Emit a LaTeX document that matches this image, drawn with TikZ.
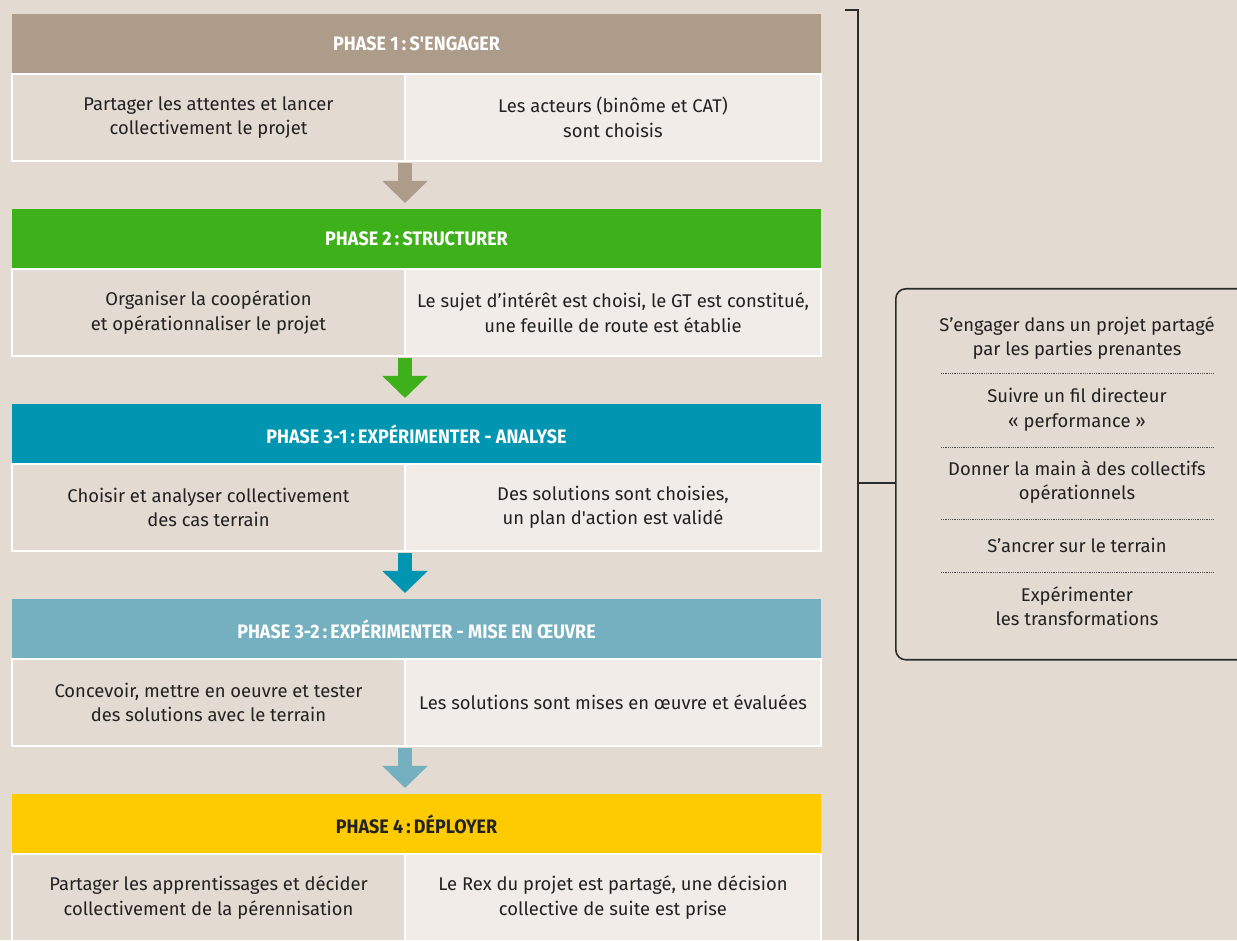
\documentclass[tikz,border=0pt]{standalone}
\usepackage{fontspec}
\setmainfont{Fira Sans}
\newfontfamily\headfont[FakeStretch=0.92]{Fira Sans}
\usetikzlibrary{positioning, arrows.meta, calc}

\definecolor{bgbeige}{HTML}{E3DAD2}
\definecolor{celllight}{HTML}{F1ECE7}
\definecolor{textdark}{HTML}{222222}
\definecolor{linedark}{HTML}{2B2B2B}
\definecolor{phaseone}{HTML}{AD9C89}
\definecolor{phasetwo}{HTML}{3EB11A}
\definecolor{phasethree}{HTML}{0095B0}
\definecolor{phasethreeb}{HTML}{74B0BF}
\definecolor{phasefour}{HTML}{FDCB00}

\begin{document}
\begin{tikzpicture}[x=1pt, y=1pt, font=\fontsize{18.4}{24.5}\selectfont,
  head/.style={minimum width=809pt, minimum height=60pt, inner sep=0pt, outer sep=0pt,
    text=white, font=\headfont\bfseries\fontsize{19.5}{21}\selectfont},
  cell/.style={draw=white, line width=2pt, minimum height=87pt, inner sep=0pt, outer sep=0pt,
    align=center, text=textdark},
  cellL/.style={cell, fill=bgbeige, minimum width=393pt},
  cellR/.style={cell, fill=celllight, minimum width=416pt},
  flow/.style={line width=14pt, -{Triangle[width=44pt,length=22pt]}, shorten <=2pt, shorten >=6pt},
  idea/.style={align=center, text=textdark},
  sep/.style={textdark!80, line width=0.7pt, dash pattern=on 0.7pt off 1.1pt},
  bracket/.style={linedark, line width=1.8pt}
]
  \useasboundingbox (0,0) rectangle (1237,940);
  \fill[bgbeige] (0,0) rectangle (1237,940);
  \clip (0,0) rectangle (1237,940);

  % phase 1
  \node[head, fill=phaseone, anchor=north west] (h1) at (12,926) {PHASE 1\,:\,S\textquotesingle ENGAGER};
  \node[cellL, anchor=north west] (l1) at (h1.south west) {Partager les attentes et lancer\\collectivement le projet};
  \node[cellR, anchor=north west] (r1) at (l1.north east) {Les acteurs (binôme et CAT)\\sont choisis};

  % phase 2
  \node[head, fill=phasetwo, below=48pt of l1.south west, anchor=north west] (h2) {PHASE 2\,:\,STRUCTURER};
  \node[cellL, anchor=north west] (l2) at (h2.south west) {Organiser la coopération\\et opérationnaliser le projet};
  \node[cellR, anchor=north west] (r2) at (l2.north east) {Le sujet d’intérêt est choisi, le GT est constitué,\\une feuille de route est établie};

  % phase 3-1
  \node[head, fill=phasethree, below=48pt of l2.south west, anchor=north west] (h3) {PHASE 3-1\,:\,EXPÉRIMENTER - ANALYSE};
  \node[cellL, anchor=north west] (l3) at (h3.south west) {Choisir et analyser collectivement\\des cas terrain};
  \node[cellR, anchor=north west] (r3) at (l3.north east) {Des solutions sont choisies,\\un plan d\textquotesingle action est validé};

  % phase 3-2
  \node[head, fill=phasethreeb, below=48pt of l3.south west, anchor=north west] (h4) {PHASE 3-2\,:\,EXPÉRIMENTER - MISE EN ŒUVRE};
  \node[cellL, anchor=north west] (l4) at (h4.south west) {Concevoir, mettre en oeuvre et tester\\des solutions avec le terrain};
  \node[cellR, anchor=north west] (r4) at (l4.north east) {Les solutions sont mises en œuvre et évaluées};

  % phase 4
  \node[head, fill=phasefour, text=textdark, below=48pt of l4.south west, anchor=north west] (h5) {PHASE 4\,:\,DÉPLOYER};
  \node[cellL, anchor=north west] (l5) at (h5.south west) {Partager les apprentissages et décider\\collectivement de la pérennisation};
  \node[cellR, anchor=north west] (r5) at (l5.north east) {Le Rex du projet est partagé, une décision\\collective de suite est prise};

  % arrows between phases
  \draw[flow, phaseone] (l1.south east) -- (l1.south east |- h2.north);
  \draw[flow, phasetwo] (l2.south east) -- (l2.south east |- h3.north);
  \draw[flow, phasethree] (l3.south east) -- (l3.south east |- h4.north);
  \draw[flow, phasethreeb] (l4.south east) -- (l4.south east |- h5.north);

  % principles box
  \node[draw=linedark, line width=1.6pt, rounded corners=10pt, minimum width=360pt,
    minimum height=371pt, anchor=north west] (goals) at (895,652) {};
  \node[idea] (g1) at (1077,602) {S’engager dans un projet partagé\\par les parties prenantes};
  \node[idea] (g2) at (1077,530) {Suivre un fil directeur\\«~performance~»};
  \node[idea] (g3) at (1077,458) {Donner la main à des collectifs\\opérationnels};
  \node[idea] (g4) at (1077,395) {S’ancrer sur le terrain};
  \node[idea] (g5) at (1077,334) {Expérimenter\\les transformations};
  \draw[sep] (941,567) -- (1214,567);
  \draw[sep] (941,493) -- (1214,493);
  \draw[sep] (941,421) -- (1214,421);
  \draw[sep] (941,368) -- (1214,368);

  % bracket
  \coordinate (btop) at (858,930);
  \coordinate (bmid) at (858,457);
  \draw[bracket] (845,930) -- (btop) -- (858,-5);
  \draw[bracket] (bmid) -- (bmid -| goals.west);
\end{tikzpicture}
\end{document}
